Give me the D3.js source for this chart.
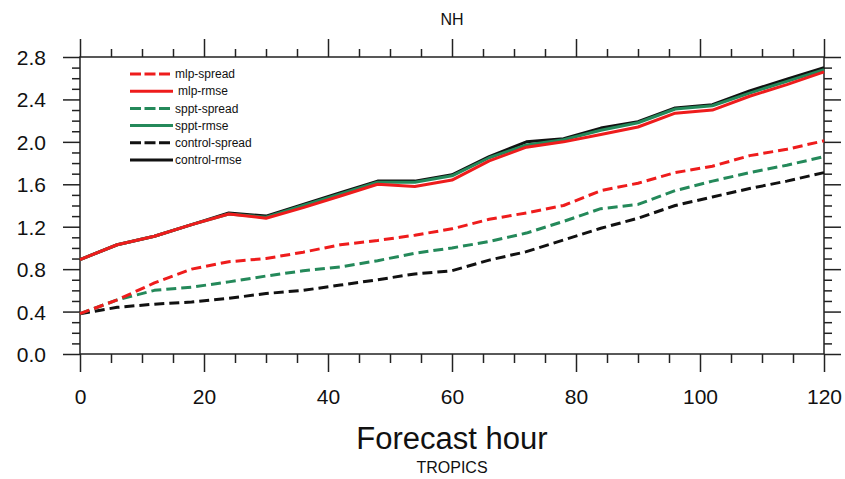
<!DOCTYPE html>
<html><head><meta charset="utf-8">
<script src="https://cdn.jsdelivr.net/npm/d3@7"></script>
<style>
html,body{margin:0;padding:0;background:#fff;}
text{font-family:"Liberation Sans",Arial,Helvetica,sans-serif;fill:#111;}
</style></head>
<body>
<svg id="chart" width="845" height="479"></svg>
<script>
const hours = [0,6,12,18,24,30,36,42,48,54,60,66,72,78,84,90,96,102,108,114,120];
const mlpSpread     = [0.38,0.51,0.67,0.80,0.87,0.90,0.96,1.03,1.07,1.12,1.18,1.27,1.33,1.40,1.54,1.61,1.71,1.77,1.87,1.93,2.01];
const mlpRmse       = [0.89,1.03,1.11,1.22,1.32,1.28,1.38,1.49,1.60,1.58,1.64,1.82,1.95,2.00,2.07,2.14,2.27,2.30,2.43,2.54,2.66];
const spptSpread    = [0.38,0.51,0.60,0.63,0.68,0.735,0.785,0.82,0.88,0.95,1.00,1.06,1.14,1.25,1.37,1.41,1.54,1.63,1.71,1.78,1.86];
const spptRmse      = [0.89,1.03,1.11,1.22,1.32,1.29,1.40,1.51,1.62,1.62,1.68,1.85,1.97,2.02,2.11,2.18,2.31,2.34,2.46,2.57,2.68];
const controlSpread = [0.38,0.44,0.47,0.49,0.525,0.57,0.60,0.65,0.70,0.755,0.785,0.885,0.965,1.075,1.185,1.28,1.40,1.48,1.56,1.63,1.71];
const controlRmse   = [0.89,1.03,1.11,1.22,1.33,1.30,1.41,1.52,1.63,1.63,1.69,1.86,2.00,2.03,2.13,2.19,2.32,2.35,2.48,2.59,2.70];
const xTicks = [0,20,40,60,80,100,120];
const yTicks = [0.0,0.4,0.8,1.2,1.6,2.0,2.4,2.8];
const seriesNames = ["mlp-spread","mlp-rmse","sppt-spread","sppt-rmse","control-spread","control-rmse"];

const RED="#ee1c1c", GREEN="#24895a", BLACK="#111111";
const series = [
  {name:"control-spread", vals:controlSpread, color:BLACK, dash:true},
  {name:"sppt-spread", vals:spptSpread, color:GREEN, dash:true},
  {name:"mlp-spread", vals:mlpSpread, color:RED, dash:true},
  {name:"control-rmse", vals:controlRmse, color:BLACK, dash:false},
  {name:"sppt-rmse", vals:spptRmse, color:GREEN, dash:false},
  {name:"mlp-rmse", vals:mlpRmse, color:RED, dash:false}
];
const styleOf = Object.fromEntries(series.map(s=>[s.name,s]));

const svg = d3.select("#chart");
const L=80,R=824,T=57,B=354;
const x = d3.scaleLinear().domain([0,120]).range([L,R]);
const y = d3.scaleLinear().domain([0,2.8]).range([B,T]);

const minorX = d3.range(0,121,5).filter(v=>v%20!==0);
const minorY = d3.range(0,29,1).map(v=>v/10).filter((v,i)=>i%4!==0);

function styleAxis(g){
  g.select(".domain").remove();
  g.selectAll(".tick line").attr("stroke","#222").attr("stroke-width",1.5);
}
const fmt = d3.format(".1f");
// bottom
svg.append("g").attr("transform",`translate(0,${B})`)
  .call(d3.axisBottom(x).tickValues(xTicks).tickSize(18).tickFormat(d3.format("d")))
  .call(styleAxis)
  .call(g=>g.selectAll("text").attr("font-size",21).attr("y",50).attr("dy","0").attr("fill","#111").attr("font-family",null));
svg.append("g").attr("transform",`translate(0,${B})`)
  .call(d3.axisBottom(x).tickValues(minorX).tickSize(9).tickFormat(""))
  .call(styleAxis);
// top
svg.append("g").attr("transform",`translate(0,${T})`)
  .call(d3.axisTop(x).tickValues(xTicks).tickSize(18).tickFormat(""))
  .call(styleAxis);
svg.append("g").attr("transform",`translate(0,${T})`)
  .call(d3.axisTop(x).tickValues(minorX).tickSize(8).tickFormat(""))
  .call(styleAxis);
// left
svg.append("g").attr("transform",`translate(${L},0)`)
  .call(d3.axisLeft(y).tickValues(yTicks).tickSize(17).tickFormat(fmt))
  .call(styleAxis)
  .call(g=>g.selectAll("text").attr("font-size",21).attr("x",-34).attr("dy","0.36em").attr("fill","#111").attr("font-family",null));
svg.append("g").attr("transform",`translate(${L},0)`)
  .call(d3.axisLeft(y).tickValues(minorY).tickSize(8).tickFormat(""))
  .call(styleAxis);
// right
svg.append("g").attr("transform",`translate(${R},0)`)
  .call(d3.axisRight(y).tickValues(yTicks).tickSize(17).tickFormat(""))
  .call(styleAxis);
svg.append("g").attr("transform",`translate(${R},0)`)
  .call(d3.axisRight(y).tickValues(minorY).tickSize(8).tickFormat(""))
  .call(styleAxis);

// frame
svg.append("rect").attr("x",L).attr("y",T).attr("width",R-L).attr("height",B-T)
  .attr("fill","none").attr("stroke","#222").attr("stroke-width",1.5);

// lines
const line = d3.line().x((d,i)=>x(hours[i])).y(d=>y(d));
series.forEach(s=>{
  svg.append("path").datum(s.vals).attr("d",line)
    .attr("fill","none").attr("stroke",s.color).attr("stroke-width",3)
    .attr("stroke-linejoin","round")
    .attr("stroke-dasharray",s.dash?"10,5":null);
});

// legend
const lg = svg.append("g");
seriesNames.forEach((n,i)=>{
  const s = styleOf[n];
  const yy = 74 + i*17.2;
  lg.append("line").attr("x1",130).attr("x2",173).attr("y1",yy).attr("y2",yy)
    .attr("stroke",s.color).attr("stroke-width",3).attr("stroke-dasharray",s.dash?"11,3.5":null);
  lg.append("text").attr("x", n==="mlp-rmse"?178:175).attr("y",yy).attr("dy","0.35em")
    .attr("font-size",12).text(n);
});

// titles
svg.append("text").attr("x",(L+R)/2).attr("y",25).attr("text-anchor","middle").attr("font-size",16).text("NH");
svg.append("text").attr("x",(L+R)/2).attr("y",449).attr("text-anchor","middle").attr("font-size",31).text("Forecast hour");
svg.append("text").attr("x",(L+R)/2).attr("y",473).attr("text-anchor","middle").attr("font-size",16).text("TROPICS");
</script>
</body></html>
